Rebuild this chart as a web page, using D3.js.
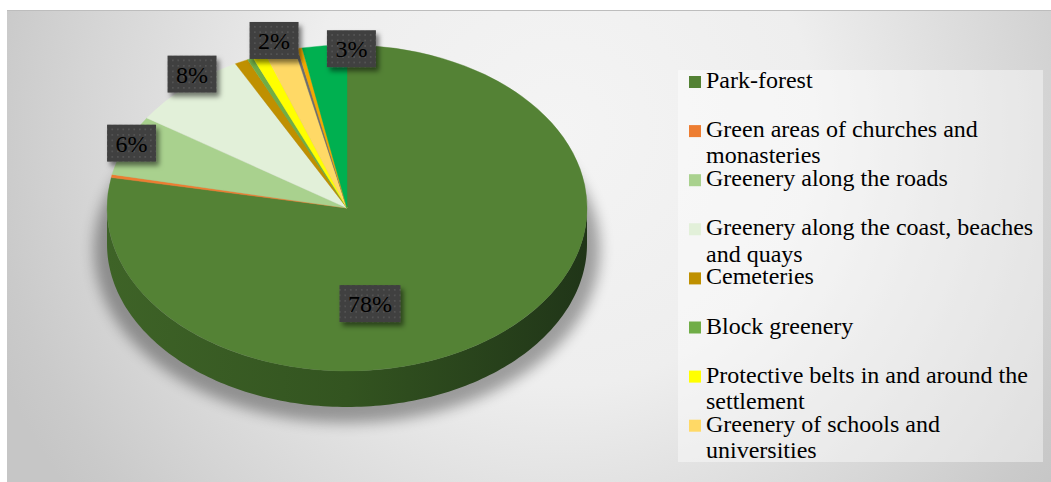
<!DOCTYPE html>
<html>
<head>
<meta charset="utf-8">
<script src="https://cdn.jsdelivr.net/npm/d3@7"></script>
<style>
  html, body { margin: 0; padding: 0; background: #ffffff; }
  svg { display: block; }
</style>
</head>
<body>
<svg id="chart" width="1051" height="482"></svg>
<script>
// Structure of urban green areas, share of total area (%)
const categories = [
  "Park-forest",
  "Green areas of churches and monasteries",
  "Greenery along the roads",
  "Greenery along the coast, beaches and quays",
  "Cemeteries",
  "Block greenery",
  "Protective belts in and around the settlement",
  "Greenery of schools and universities",
  "Sports grounds",
  "Special-purpose greenery",
  "Gardens and squares"
];
const shares = [78, 0.3, 6, 8, 0.9, 0.4, 0.9, 2, 0.2, 0.3, 3];
const sliceColors = [
  "#548235", "#ED7D31", "#A9D18E", "#E2F0D9", "#BF9000", "#70AD47",
  "#FFFF00", "#FFD966", "#6E6E6E", "#F2A900", "#00B050"
];
// the legend box only has room for the first eight entries
const legendCount = 8;
// slices that carry a value label
const labelledSlices = [0, 2, 3, 7, 10];

// ---- layout ----
const W = 1051, H = 482;
const cx = 347, cy = 208, rx = 240, ry = 163, depth = 36;
const serif = "'Liberation Serif', 'Times New Roman', serif";

const svg = d3.select("#chart");
const defs = svg.append("defs");

// page background
const bg = defs.append("radialGradient").attr("id", "bgGrad")
  .attr("gradientUnits", "userSpaceOnUse")
  .attr("cx", 560).attr("cy", 130).attr("r", 610);
[[0, "#f4f4f4"], [0.42, "#eeeeee"], [0.78, "#d5d5d5"], [0.93, "#cacaca"], [1, "#c6c6c6"]]
  .forEach(([o, c]) => bg.append("stop").attr("offset", o).attr("stop-color", c));

// side of the disc
const sideGrad = defs.append("linearGradient").attr("id", "sideGrad")
  .attr("gradientUnits", "userSpaceOnUse")
  .attr("x1", cx - rx).attr("x2", cx + rx).attr("y1", 0).attr("y2", 0);
[[0, "#3e6327"], [0.5, "#335420"], [1, "#203518"]]
  .forEach(([o, c]) => sideGrad.append("stop").attr("offset", o).attr("stop-color", c));

// soft shadow under the disc
defs.append("filter").attr("id", "pieShadow")
  .attr("x", "-20%").attr("y", "-20%").attr("width", "140%").attr("height", "140%")
  .append("feGaussianBlur").attr("stdDeviation", 7);

// drop shadow for value labels
defs.append("filter").attr("id", "labelShadow")
  .attr("x", "-30%").attr("y", "-30%").attr("width", "170%").attr("height", "170%")
  .append("feDropShadow").attr("dx", 3).attr("dy", 4).attr("stdDeviation", 2.5)
  .attr("flood-color", "#000").attr("flood-opacity", 0.5);

// dotted fill for value labels
const dots = defs.append("pattern").attr("id", "dots")
  .attr("patternUnits", "userSpaceOnUse").attr("width", 5.5).attr("height", 5.5);
dots.append("rect").attr("width", 5.5).attr("height", 5.5).attr("fill", "#3f3f3f");
dots.append("circle").attr("cx", 2.75).attr("cy", 2.75).attr("r", 0.85).attr("fill", "#5a5a5a");

// chart area
svg.append("rect").attr("x", 7).attr("y", 10).attr("width", W - 7).attr("height", H - 10)
  .attr("fill", "url(#bgGrad)");
svg.append("line").attr("x1", 7).attr("x2", W).attr("y1", 10.5).attr("y2", 10.5)
  .attr("stroke", "#bdbdbd").attr("stroke-width", 1);

// ---- pie ----
const data = categories.map((c, i) => ({ name: c, value: shares[i], color: sliceColors[i], index: i }));
const pie = d3.pie().value(d => d.value).sort(null);
const arcs = pie(data);

const pt = (t, dy = 0) => [cx + rx * Math.sin(t), cy - ry * Math.cos(t) + dy];

// shadow
svg.append("ellipse")
  .attr("cx", cx).attr("cy", cy + 42).attr("rx", rx + 13).attr("ry", ry + 10)
  .attr("fill", "#000").attr("opacity", 0.34).attr("filter", "url(#pieShadow)");

// visible side wall: front half of the rim (right through bottom to left)
const sideG = svg.append("g");
arcs.forEach(a => {
  const s = Math.max(a.startAngle, Math.PI / 2);
  const e = Math.min(a.endAngle, 3 * Math.PI / 2);
  if (e <= s) return;
  const n = Math.max(2, Math.ceil((e - s) / 0.02));
  const ts = d3.range(n + 1).map(k => s + (e - s) * k / n);
  const top = ts.map(t => pt(t));
  const bottom = ts.slice().reverse().map(t => pt(t, depth));
  const fill = a.index === 0 ? "url(#sideGrad)" : d3.color(a.data.color).darker(1.2);
  sideG.append("path")
    .attr("d", d3.line()(top.concat(bottom)) + "Z")
    .attr("fill", fill);
});

// top face
const arcGen = d3.arc().innerRadius(0).outerRadius(1);
svg.append("g")
  .attr("transform", `translate(${cx},${cy}) scale(${rx},${ry})`)
  .selectAll("path")
  .data(arcs)
  .join("path")
  .attr("d", arcGen)
  .attr("fill", d => d.data.color)
  .attr("stroke", d => d.data.color)
  .attr("stroke-width", 0.4)
  .attr("vector-effect", "non-scaling-stroke");

// ---- value labels ----
// anchored at the rim point of each slice's middle angle, then nudged clear of neighbours
const labelNudge = { 0: [-130, -30], 2: [6, -2], 3: [6, -13], 7: [-6, -11], 10: [27, 3] };
const labelG = svg.append("g");
labelledSlices.forEach(i => {
  const a = arcs[i];
  const mid = (a.startAngle + a.endAngle) / 2;
  const [px, py] = pt(mid);
  const [nx, ny] = labelNudge[i];
  const x = px + nx, y = py + ny;
  const txt = Math.round(a.data.value) + "%";
  const g = labelG.append("g").attr("transform", `translate(${x},${y})`);
  const t = g.append("text")
    .attr("text-anchor", "middle").attr("dy", "0.35em")
    .attr("font-family", serif).attr("font-size", 24).attr("fill", "#000")
    .text(txt);
  const w = t.node().getComputedTextLength() + 17;
  g.insert("rect", "text")
    .attr("x", -w / 2).attr("y", -18.5).attr("width", w).attr("height", 37)
    .attr("fill", "url(#dots)").attr("filter", "url(#labelShadow)");
});

// ---- legend ----
svg.append("rect").attr("x", 678).attr("y", 70).attr("width", 365).attr("height", 392)
  .attr("fill", "#ffffff").attr("opacity", 0.42);

const legend = svg.append("g");
const legendX = 706, legendTop = 88, legendStep = 49.1, lineH = 26.3, maxW = 332;
data.slice(0, legendCount).forEach((d, i) => {
  const base = legendTop + i * legendStep;
  legend.append("rect")
    .attr("x", 689).attr("y", base - 12).attr("width", 12).attr("height", 12)
    .attr("fill", d.color);
  const text = legend.append("text")
    .attr("x", legendX).attr("y", base)
    .attr("font-family", serif).attr("font-size", 24).attr("fill", "#000");
  // word wrap
  const words = d.name.split(" ");
  let line = [], lineNo = 0;
  let tspan = text.append("tspan").attr("x", legendX).attr("y", base);
  words.forEach(wd => {
    line.push(wd);
    tspan.text(line.join(" "));
    if (tspan.node().getComputedTextLength() > maxW && line.length > 1) {
      line.pop();
      tspan.text(line.join(" "));
      line = [wd];
      lineNo++;
      tspan = text.append("tspan").attr("x", legendX).attr("y", base + lineNo * lineH).text(wd);
    }
  });
});
</script>
</body>
</html>
